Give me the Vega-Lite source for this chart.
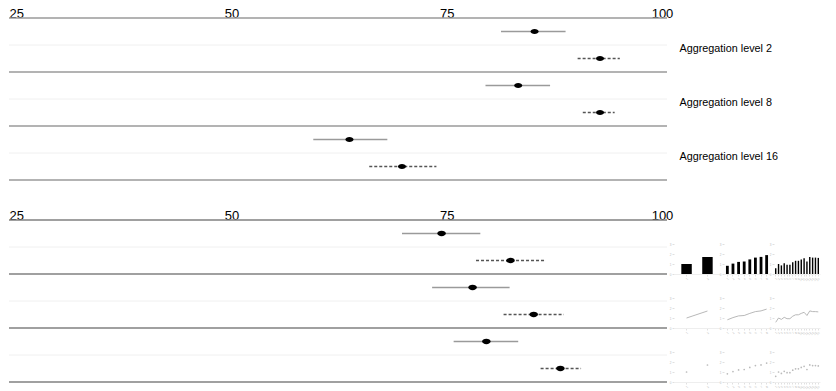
{
  "$schema": "https://vega.github.io/schema/vega-lite/v6.json",
  "background": "white",
  "padding": {"left": 8, "top": 7, "right": 0, "bottom": 0},
  "config": {
    "view": {"stroke": null},
    "font": "Liberation Sans",
    "axis": {"labelFont": "Liberation Sans", "titleFont": "Liberation Sans"}
  },
  "datasets": {
    "forestTop": [
      {"group": "Aggregation level 2", "method": "A", "row": 1, "lo": 81.3, "est": 85.2, "hi": 88.8},
      {"group": "Aggregation level 2", "method": "B", "row": 2, "lo": 90.2, "est": 92.8, "hi": 95.1},
      {"group": "Aggregation level 8", "method": "A", "row": 3, "lo": 79.5, "est": 83.3, "hi": 87.0},
      {"group": "Aggregation level 8", "method": "B", "row": 4, "lo": 90.8, "est": 92.8, "hi": 94.5},
      {"group": "Aggregation level 16", "method": "A", "row": 5, "lo": 59.5, "est": 63.7, "hi": 68.1},
      {"group": "Aggregation level 16", "method": "B", "row": 6, "lo": 66.0, "est": 69.8, "hi": 73.8}
    ],
    "forestBottom": [
      {"group": "Aggregation level 2", "method": "A", "row": 1, "lo": 69.8, "est": 74.4, "hi": 78.9},
      {"group": "Aggregation level 2", "method": "B", "row": 2, "lo": 78.4, "est": 82.4, "hi": 86.3},
      {"group": "Aggregation level 8", "method": "A", "row": 3, "lo": 73.3, "est": 78.0, "hi": 82.3},
      {"group": "Aggregation level 8", "method": "B", "row": 4, "lo": 81.6, "est": 85.1, "hi": 88.6},
      {"group": "Aggregation level 16", "method": "A", "row": 5, "lo": 75.8, "est": 79.6, "hi": 83.3},
      {"group": "Aggregation level 16", "method": "B", "row": 6, "lo": 85.9, "est": 88.2, "hi": 90.6}
    ],
    "separators": [
      {"pos": 0.5, "kind": "major"},
      {"pos": 1.5, "kind": "minor"},
      {"pos": 2.5, "kind": "major"},
      {"pos": 3.5, "kind": "minor"},
      {"pos": 4.5, "kind": "major"},
      {"pos": 5.5, "kind": "minor"},
      {"pos": 6.5, "kind": "major"}
    ],
    "groups": [
      {"group": "Aggregation level 2"},
      {"group": "Aggregation level 8"},
      {"group": "Aggregation level 16"}
    ],
    "minis": [
      {"type": "bar", "level": 2, "idx": 1, "value": 1.0},
      {"type": "bar", "level": 2, "idx": 2, "value": 1.7},
      {"type": "bar", "level": 8, "idx": 1, "value": 0.82},
      {"type": "bar", "level": 8, "idx": 2, "value": 1.04},
      {"type": "bar", "level": 8, "idx": 3, "value": 1.21},
      {"type": "bar", "level": 8, "idx": 4, "value": 1.25},
      {"type": "bar", "level": 8, "idx": 5, "value": 1.46},
      {"type": "bar", "level": 8, "idx": 6, "value": 1.64},
      {"type": "bar", "level": 8, "idx": 7, "value": 1.71},
      {"type": "bar", "level": 8, "idx": 8, "value": 1.89},
      {"type": "bar", "level": 16, "idx": 1, "value": 0.57},
      {"type": "bar", "level": 16, "idx": 2, "value": 1.0},
      {"type": "bar", "level": 16, "idx": 3, "value": 0.86},
      {"type": "bar", "level": 16, "idx": 4, "value": 1.07},
      {"type": "bar", "level": 16, "idx": 5, "value": 0.93},
      {"type": "bar", "level": 16, "idx": 6, "value": 0.93},
      {"type": "bar", "level": 16, "idx": 7, "value": 1.18},
      {"type": "bar", "level": 16, "idx": 8, "value": 1.32},
      {"type": "bar", "level": 16, "idx": 9, "value": 1.32},
      {"type": "bar", "level": 16, "idx": 10, "value": 1.46},
      {"type": "bar", "level": 16, "idx": 11, "value": 1.57},
      {"type": "bar", "level": 16, "idx": 12, "value": 1.25},
      {"type": "bar", "level": 16, "idx": 13, "value": 1.71},
      {"type": "bar", "level": 16, "idx": 14, "value": 1.64},
      {"type": "bar", "level": 16, "idx": 15, "value": 1.64},
      {"type": "bar", "level": 16, "idx": 16, "value": 1.61},
      {"type": "line", "level": 2, "idx": 1, "value": 1.0},
      {"type": "line", "level": 2, "idx": 2, "value": 1.7},
      {"type": "line", "level": 8, "idx": 1, "value": 0.82},
      {"type": "line", "level": 8, "idx": 2, "value": 1.04},
      {"type": "line", "level": 8, "idx": 3, "value": 1.21},
      {"type": "line", "level": 8, "idx": 4, "value": 1.25},
      {"type": "line", "level": 8, "idx": 5, "value": 1.46},
      {"type": "line", "level": 8, "idx": 6, "value": 1.64},
      {"type": "line", "level": 8, "idx": 7, "value": 1.71},
      {"type": "line", "level": 8, "idx": 8, "value": 1.89},
      {"type": "line", "level": 16, "idx": 1, "value": 0.57},
      {"type": "line", "level": 16, "idx": 2, "value": 1.0},
      {"type": "line", "level": 16, "idx": 3, "value": 0.86},
      {"type": "line", "level": 16, "idx": 4, "value": 1.07},
      {"type": "line", "level": 16, "idx": 5, "value": 0.93},
      {"type": "line", "level": 16, "idx": 6, "value": 0.93},
      {"type": "line", "level": 16, "idx": 7, "value": 1.18},
      {"type": "line", "level": 16, "idx": 8, "value": 1.32},
      {"type": "line", "level": 16, "idx": 9, "value": 1.32},
      {"type": "line", "level": 16, "idx": 10, "value": 1.46},
      {"type": "line", "level": 16, "idx": 11, "value": 1.57},
      {"type": "line", "level": 16, "idx": 12, "value": 1.25},
      {"type": "line", "level": 16, "idx": 13, "value": 1.71},
      {"type": "line", "level": 16, "idx": 14, "value": 1.64},
      {"type": "line", "level": 16, "idx": 15, "value": 1.64},
      {"type": "line", "level": 16, "idx": 16, "value": 1.61},
      {"type": "point", "level": 2, "idx": 1, "value": 1.0},
      {"type": "point", "level": 2, "idx": 2, "value": 1.7},
      {"type": "point", "level": 8, "idx": 1, "value": 0.82},
      {"type": "point", "level": 8, "idx": 2, "value": 1.04},
      {"type": "point", "level": 8, "idx": 3, "value": 1.21},
      {"type": "point", "level": 8, "idx": 4, "value": 1.25},
      {"type": "point", "level": 8, "idx": 5, "value": 1.46},
      {"type": "point", "level": 8, "idx": 6, "value": 1.64},
      {"type": "point", "level": 8, "idx": 7, "value": 1.71},
      {"type": "point", "level": 8, "idx": 8, "value": 1.89},
      {"type": "point", "level": 16, "idx": 1, "value": 0.57},
      {"type": "point", "level": 16, "idx": 2, "value": 1.0},
      {"type": "point", "level": 16, "idx": 3, "value": 0.86},
      {"type": "point", "level": 16, "idx": 4, "value": 1.07},
      {"type": "point", "level": 16, "idx": 5, "value": 0.93},
      {"type": "point", "level": 16, "idx": 6, "value": 0.93},
      {"type": "point", "level": 16, "idx": 7, "value": 1.18},
      {"type": "point", "level": 16, "idx": 8, "value": 1.32},
      {"type": "point", "level": 16, "idx": 9, "value": 1.32},
      {"type": "point", "level": 16, "idx": 10, "value": 1.46},
      {"type": "point", "level": 16, "idx": 11, "value": 1.57},
      {"type": "point", "level": 16, "idx": 12, "value": 1.25},
      {"type": "point", "level": 16, "idx": 13, "value": 1.71},
      {"type": "point", "level": 16, "idx": 14, "value": 1.64},
      {"type": "point", "level": 16, "idx": 15, "value": 1.64},
      {"type": "point", "level": 16, "idx": 16, "value": 1.61}
    ]
  },
  "spacing": 28,
  "vconcat": [
    {
      "width": 658,
      "height": 162,
      "layer": [
        {
          "layer": [
            {
              "data": {"name": "separators"},
              "transform": [{"filter": "datum.kind == 'minor'"}],
              "mark": {"type": "rule", "color": "#f0f0f0", "strokeWidth": 1},
              "encoding": {
                "y": {"field": "pos", "type": "quantitative",
                      "scale": {"domain": [0.5, 6.5], "reverse": true, "nice": false, "zero": false}, "axis": null}
              }
            },
            {
              "data": {"name": "separators"},
              "transform": [{"filter": "datum.kind == 'major'"}],
              "mark": {"type": "rule", "color": "#9a9a9a", "strokeWidth": 1.6},
              "encoding": {
                "y": {"field": "pos", "type": "quantitative"}
              }
            },
            {
              "data": {"name": "forestTop"},
              "mark": {"type": "rule", "strokeWidth": 1.3},
              "encoding": {
                "x": {
                  "field": "lo", "type": "quantitative",
                  "scale": {"domain": [24.16, 100.58], "nice": false, "zero": false},
                  "axis": {"orient": "top", "values": [25, 50, 75, 100], "title": null, "ticks": false, "grid": false,
                           "domain": false, "labelFontSize": 13, "labelColor": "black",
                           "labelPadding": 1, "labelBaseline": "alphabetic", "labelFlush": false, "labelOverlap": false}
                },
                "x2": {"field": "hi"},
                "y": {"field": "row", "type": "quantitative"},
                "strokeDash": {"field": "method", "type": "nominal", "scale": {"domain": ["A", "B"], "range": [[1, 0], [3, 2]]}, "legend": null},
                "color": {"field": "method", "type": "nominal", "scale": {"domain": ["A", "B"], "range": ["#9a9a9a", "#555555"]}, "legend": null}
              }
            },
            {
              "data": {"name": "forestTop"},
              "mark": {"type": "point", "filled": true, "opacity": 1, "color": "black", "size": 64,
                       "shape": "M-1,0A1,0.6,0,1,1,1,0A1,0.6,0,1,1,-1,0Z"},
              "encoding": {
                "x": {"field": "est", "type": "quantitative"},
                "y": {"field": "row", "type": "quantitative"}
              }
            }
          ]
        },
        {
          "data": {"name": "groups"},
          "mark": {"type": "point", "opacity": 0},
          "encoding": {
            "y": {
              "field": "group", "type": "nominal", "sort": null,
              "scale": {"type": "point", "padding": 0.5},
              "axis": {"orient": "right", "title": null, "ticks": false, "domain": false, "grid": false,
                       "labelFontSize": 10.8, "labelColor": "black", "labelPadding": 12, "labelOffset": 3}
            }
          }
        }
      ],
      "resolve": {"scale": {"y": "independent"}, "axis": {"y": "independent"}}
    },
    {
      "bounds": "flush",
      "spacing": 7,
      "hconcat": [
        {
          "width": 658,
          "height": 162,
          "layer": [
            {
              "data": {"name": "separators"},
              "transform": [{"filter": "datum.kind == 'minor'"}],
              "mark": {"type": "rule", "color": "#f0f0f0", "strokeWidth": 1},
              "encoding": {
                "y": {"field": "pos", "type": "quantitative",
                      "scale": {"domain": [0.5, 6.5], "reverse": true, "nice": false, "zero": false}, "axis": null}
              }
            },
            {
              "data": {"name": "separators"},
              "transform": [{"filter": "datum.kind == 'major'"}],
              "mark": {"type": "rule", "color": "#808080", "strokeWidth": 1.6},
              "encoding": {
                "y": {"field": "pos", "type": "quantitative"}
              }
            },
            {
              "data": {"name": "forestBottom"},
              "mark": {"type": "rule", "strokeWidth": 1.3},
              "encoding": {
                "x": {
                  "field": "lo", "type": "quantitative",
                  "scale": {"domain": [24.16, 100.58], "nice": false, "zero": false},
                  "axis": {"orient": "top", "values": [25, 50, 75, 100], "title": null, "ticks": false, "grid": false,
                           "domain": false, "labelFontSize": 13, "labelColor": "black",
                           "labelPadding": 1, "labelBaseline": "alphabetic", "labelFlush": false, "labelOverlap": false}
                },
                "x2": {"field": "hi"},
                "y": {"field": "row", "type": "quantitative"},
                "strokeDash": {"field": "method", "type": "nominal", "scale": {"domain": ["A", "B"], "range": [[1, 0], [3, 2]]}, "legend": null},
                "color": {"field": "method", "type": "nominal", "scale": {"domain": ["A", "B"], "range": ["#333333", "#444444"]}, "legend": null}
              }
            },
            {
              "data": {"name": "forestBottom"},
              "mark": {"type": "point", "filled": true, "opacity": 1, "color": "black", "size": 72,
                       "shape": "M-1,0A1,0.62,0,1,1,1,0A1,0.62,0,1,1,-1,0Z"},
              "encoding": {
                "x": {"field": "est", "type": "quantitative"},
                "y": {"field": "row", "type": "quantitative"}
              }
            }
          ]
        },
        {
          "data": {"name": "minis"},
          "bounds": "flush",
          "spacing": {"row": 0, "column": 4},
          "facet": {
            "row": {"field": "type", "type": "nominal", "sort": ["bar", "line", "point"], "title": null, "header": {"labels": false, "title": null}},
            "column": {"field": "level", "type": "ordinal", "title": null, "header": {"labels": false, "title": null}}
          },
          "spec": {
            "width": 46,
            "height": 54,
            "encoding": {
              "x": {
                "field": "idx", "type": "ordinal",
                "scale": {"paddingInner": 0, "paddingOuter": 0.1},
                "axis": {"title": null, "labelFontSize": 3, "labelAngle": -45, "labelColor": "#bbbbbb", "tickColor": "#e0e0e0",
                         "tickSize": 2, "domainColor": "#eeeeee", "labelPadding": 1}
              },
              "y": {
                "field": "value", "type": "quantitative",
                "scale": {"domain": [0, 5.4], "nice": false},
                "axis": {"values": [0, 1, 2, 3], "title": null, "domain": false, "grid": false, "labelFontSize": 3,
                         "labelColor": "#bbbbbb", "tickColor": "#e0e0e0", "tickSize": 2, "labelPadding": 1}
              }
            },
            "layer": [
              {"transform": [{"filter": "datum.type == 'bar'"}], "mark": {"type": "bar", "color": "black", "width": {"band": 0.5}}},
              {"transform": [{"filter": "datum.type == 'line'"}], "mark": {"type": "line", "color": "#b0b0b0", "strokeWidth": 0.9}},
              {"transform": [{"filter": "datum.type == 'point'"}], "mark": {"type": "point", "filled": true, "color": "#bbbbbb", "size": 3, "opacity": 1}}
            ]
          },
          "resolve": {"scale": {"x": "independent"}, "axis": {"y": "independent"}}
        }
      ]
    }
  ]
}
